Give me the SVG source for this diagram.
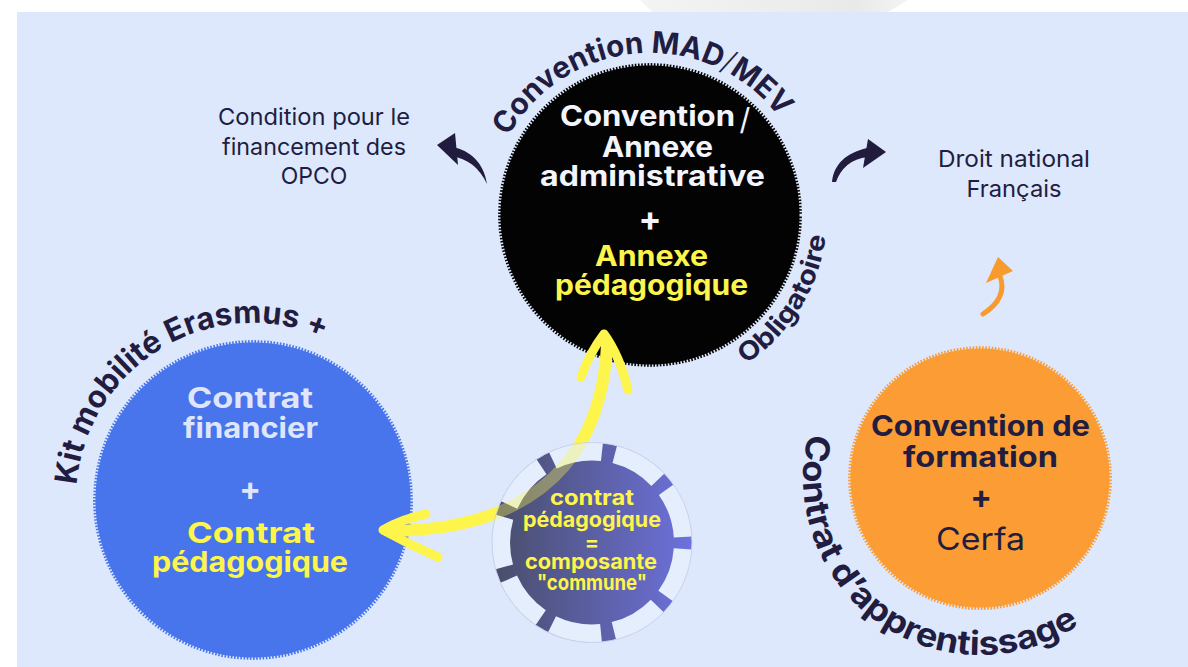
<svg xmlns="http://www.w3.org/2000/svg" width="1188" height="667" viewBox="0 0 1188 667">
<style>
.bold{font-family:"Inter","Liberation Sans",sans-serif;font-weight:700;}
.reg{font-family:"Inter","Liberation Sans",sans-serif;font-weight:400;}
.navy{fill:#221d40;}
.yel{fill:#fdf54b;}
.wht{fill:#f2f5fd;}
.lav{fill:#dfe6fb;}
.serr{fill:none;stroke:#dde8fd;stroke-width:3;stroke-dasharray:1.6 1.6;}
.ya{fill:none;stroke:#fdf54b;stroke-linecap:round;stroke-linejoin:round;}
</style>
<defs>
<linearGradient id="gearGrad" gradientUnits="userSpaceOnUse" x1="492" y1="0" x2="692" y2="0">
<stop offset="0" stop-color="#494d69"/>
<stop offset="1" stop-color="#6d71dc"/>
</linearGradient>
<linearGradient id="topGray" x1="0" y1="0" x2="1" y2="0">
<stop offset="0" stop-color="#ececec" stop-opacity="0.6"/>
<stop offset="0.8" stop-color="#e9e9e9"/>
<stop offset="1" stop-color="#f4f4f4"/>
</linearGradient>
<clipPath id="gearClip"><circle cx="592" cy="542.5" r="100"/></clipPath>
<path id="arcMad" d="M 488 215 A 162 162 0 0 1 812 215"/>
<path id="arcObl" d="M 680.7 389.3 A 177 177 0 0 0 816.3 154.5"/>
<path id="arcKit" d="M 76 500 A 177 177 0 0 1 430 500"/>
<path id="arcApp" d="M 813.7 417.5 A 177 177 0 0 0 1115.6 591.8"/>
</defs>

<rect x="0" y="0" width="1188" height="667" fill="#ffffff"/>
<polygon points="640,0 908,0 888,12 652,12" fill="url(#topGray)"/>
<rect x="17" y="12" width="1171" height="655" fill="#dde8fd"/>

<g id="node-black">
<circle cx="650" cy="215" r="152" fill="#030303"/>
<circle class="serr" cx="650" cy="215" r="151"/>
<text class="bold wht" x="647.5" y="126" font-size="28" text-anchor="middle" textLength="175" lengthAdjust="spacingAndGlyphs">Convention</text>
<text class="reg wht" x="745" y="130" font-size="30" font-weight="300" text-anchor="middle">/</text>
<text class="bold wht" x="657.5" y="157" font-size="28" text-anchor="middle" textLength="111" lengthAdjust="spacingAndGlyphs">Annexe</text>
<text class="bold wht" x="652.5" y="186" font-size="28" text-anchor="middle" textLength="225" lengthAdjust="spacingAndGlyphs">administrative</text>
<text class="bold wht" x="650" y="231" font-size="34" text-anchor="middle">+</text>
<text class="bold yel" x="651.5" y="266" font-size="28" text-anchor="middle" textLength="113" lengthAdjust="spacingAndGlyphs">Annexe</text>
<text class="bold yel" x="651.5" y="295" font-size="28" text-anchor="middle" textLength="193" lengthAdjust="spacingAndGlyphs">pédagogique</text>
</g>

<g id="node-blue">
<circle cx="253" cy="500" r="160" fill="#4875eb"/>
<circle class="serr" cx="253" cy="500" r="159"/>
<text class="bold lav" x="250" y="408" font-size="28" text-anchor="middle" textLength="126" lengthAdjust="spacingAndGlyphs">Contrat</text>
<text class="bold lav" x="250.5" y="438" font-size="28" text-anchor="middle" textLength="135" lengthAdjust="spacingAndGlyphs">financier</text>
<text class="bold lav" x="250" y="500" font-size="32" text-anchor="middle">+</text>
<text class="bold yel" x="251" y="543" font-size="28" text-anchor="middle" textLength="128" lengthAdjust="spacingAndGlyphs">Contrat</text>
<text class="bold yel" x="250" y="572" font-size="28" text-anchor="middle" textLength="196" lengthAdjust="spacingAndGlyphs">pédagogique</text>
</g>

<g id="node-orange">
<circle cx="980" cy="478" r="132" fill="#fb9d34"/>
<circle class="serr" cx="980" cy="478" r="131"/>
<text class="bold navy" x="980.5" y="436" font-size="28" text-anchor="middle" textLength="219" lengthAdjust="spacingAndGlyphs">Convention de</text>
<text class="bold navy" x="980.5" y="467" font-size="28" text-anchor="middle" textLength="155" lengthAdjust="spacingAndGlyphs">formation</text>
<text class="bold navy" x="981" y="508" font-size="32" text-anchor="middle">+</text>
<text class="reg navy" x="980.5" y="550" font-size="31" font-weight="300" text-anchor="middle" textLength="89" lengthAdjust="spacingAndGlyphs">Cerfa</text>
</g>

<g id="label-mad">
<text class="bold navy" font-size="30"><textPath href="#arcMad" startOffset="82" textLength="322" lengthAdjust="spacingAndGlyphs">Convention MAD<tspan font-weight="300">/</tspan>MEV</textPath></text>
</g>
<g id="label-obligatoire">
<text class="bold navy" font-size="26"><textPath href="#arcObl" startOffset="70" textLength="156" lengthAdjust="spacingAndGlyphs">Obligatoire</textPath></text>
</g>
<g id="label-kit">
<text class="bold navy" font-size="31"><textPath href="#arcKit" startOffset="15" textLength="336" lengthAdjust="spacingAndGlyphs">Kit mobilité Erasmus +</textPath></text>
</g>
<g id="label-apprentissage">
<text class="bold navy" font-size="33"><textPath href="#arcApp" startOffset="17" textLength="428" lengthAdjust="spacingAndGlyphs">Contrat d’apprentissage</textPath></text>
</g>

<g id="label-opco">
<text class="reg navy" x="314" y="125" font-size="23" text-anchor="middle" textLength="192" lengthAdjust="spacingAndGlyphs">Condition pour le</text>
<text class="reg navy" x="314" y="155" font-size="23" text-anchor="middle" textLength="184" lengthAdjust="spacingAndGlyphs">financement des</text>
<text class="reg navy" x="314" y="184" font-size="23" text-anchor="middle">OPCO</text>
</g>
<g id="label-droit">
<text class="reg navy" x="1014" y="167" font-size="23" text-anchor="middle" textLength="152" lengthAdjust="spacingAndGlyphs">Droit national</text>
<text class="reg navy" x="1014" y="197" font-size="23" text-anchor="middle" textLength="95" lengthAdjust="spacingAndGlyphs">Français</text>
</g>

<g id="connectors">
<g id="conn-opco" fill="#211c3e">
<path d="M 452 147 C 470 150 484 163 487 184 C 479 167 468 159 451 156 Z"/>
<polygon points="437,145 455,133 458,165"/>
</g>
<g id="conn-droit" fill="#211c3e">
<path d="M 832 182 C 834 164 846 153 867 148 L 868 157 C 851 159 841 168 836 182 Z"/>
<polygon points="886,152 868,139 863,168"/>
</g>
<g id="conn-orange">
<path d="M 983 314 Q 1008 298 1000 276" fill="none" stroke="#f99a2e" stroke-width="5" stroke-linecap="round"/>
<polygon points="998,257 986,283 1013,271" fill="#f99a2e"/>
</g>
<g id="conn-yellow">
<path class="ya" d="M 390 531 C 510 530 600 480 607 345" stroke-width="12"/>
<path class="ya" d="M 604 334 Q 590 352 581 377 M 604 334 Q 620 356 628 390" stroke-width="9"/>
<path class="ya" d="M 383 530 Q 402 519 426 514 M 383 530 Q 410 545 438 557" stroke-width="9"/>
</g>
</g>

<g id="node-gear">
<circle cx="592" cy="542.5" r="100" fill="url(#gearGrad)"/>
<circle cx="592" cy="542.5" r="91" fill="none" stroke="#e5eefc" stroke-width="18" stroke-dasharray="50.53 13" stroke-dashoffset="-6.5"/>
<circle cx="592" cy="542.5" r="100" fill="none" stroke="#cbd6ef" stroke-width="1"/>
<g clip-path="url(#gearClip)" opacity="0.35">
<path class="ya" d="M 390 531 C 510 530 600 480 607 345" stroke-width="12"/>
</g>
<text class="bold yel" x="592" y="505" font-size="21" text-anchor="middle" textLength="84" lengthAdjust="spacingAndGlyphs">contrat</text>
<text class="bold yel" x="592" y="527" font-size="21" text-anchor="middle" textLength="138" lengthAdjust="spacingAndGlyphs">pédagogique</text>
<text class="bold yel" x="592" y="550" font-size="21" text-anchor="middle">=</text>
<text class="bold yel" x="591" y="569" font-size="21" text-anchor="middle" textLength="132" lengthAdjust="spacingAndGlyphs">composante</text>
<text class="bold yel" x="592" y="590" font-size="21" text-anchor="middle" textLength="110" lengthAdjust="spacingAndGlyphs">"commune"</text>
</g>
</svg>
